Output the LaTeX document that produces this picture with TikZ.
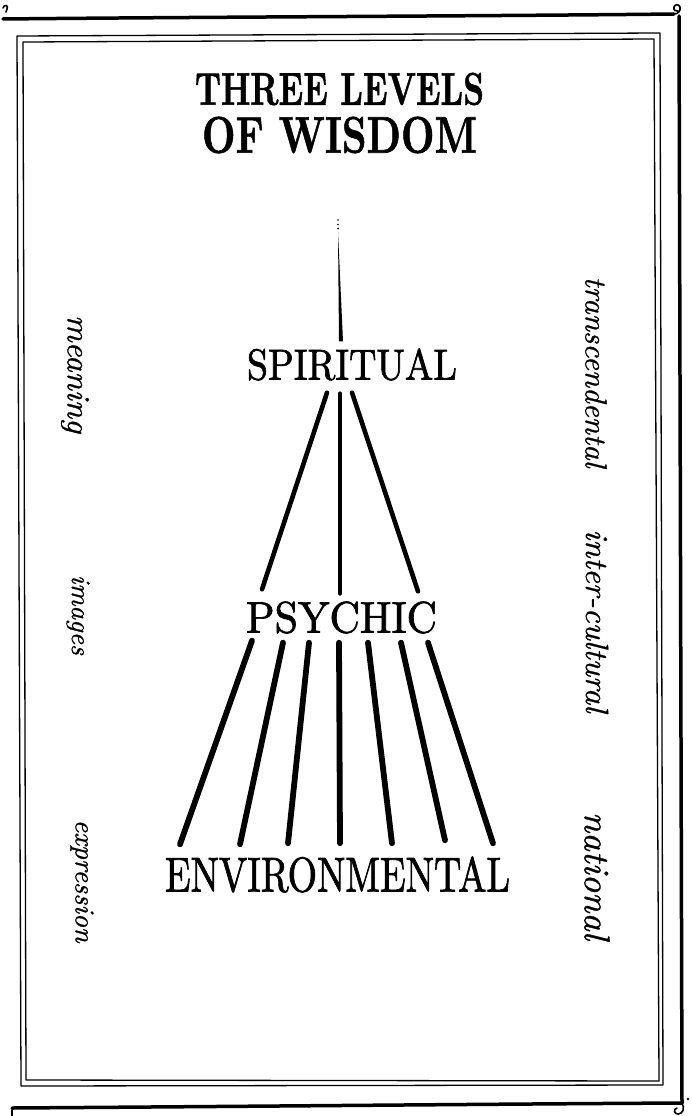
\documentclass[tikz,border=0pt]{standalone}
\usetikzlibrary{calc}
\usepackage{graphicx}
\usepackage{fontspec}
\newfontfamily\lvlfont[FakeBold=1.6]{Latin Modern Roman}
\newfontfamily\titlefont[FakeBold=1.2]{Latin Modern Roman}
\newfontfamily\handfont[FakeBold=0.8]{Latin Modern Roman}
\tikzset{
  level/.style={inner sep=0pt, anchor=center},
  side/.style={inner sep=0pt, anchor=center, rotate=-90},
  rib/.style={line width=4.6pt, line cap=round},
  ray/.style={line width=5.8pt, line cap=round},
  frame/.style={line width=1.3pt, line join=round},
  heavy/.style={line width=3.5pt, line cap=round},
  curl/.style={line width=1.6pt, line cap=round},
}
\newcommand{\fitbox}[3]{\resizebox{#1pt}{#2pt}{#3}}
\newcommand{\sidebox}[2]{\resizebox{#1pt}{!}{\handfont\itshape #2}}
\begin{document}
\begin{tikzpicture}[x=1pt,y=-1pt]
\useasboundingbox[fill=white] (0,0) rectangle (692,1116);

% outer heavy border with curls
\draw[heavy] (3,19) .. controls (200,17) and (500,16) .. (674,14);
\draw[curl] (674,14) .. controls (678,14) and (681,11) .. (680,7)
  .. controls (679,4) and (675,4) .. (674,7) .. controls (673,10) and (676,12) .. (678,11);
\draw[heavy] (679,16) -- (682,1103);
\draw[heavy] (12,1108) .. controls (300,1106) and (500,1104) .. (682,1103);
\draw[curl] (682,1103) .. controls (685,1108) and (683,1114) .. (678,1114)
  .. controls (674,1114) and (673,1109) .. (677,1108);
\fill (688,1099) circle (1.3);
\draw[curl] (3,8) .. controls (4,4) and (9,5) .. (7,9) -- (6,12);
\draw[curl] (12,1110) -- (12,1116);

% double inner frame
\draw[frame] (17,36) -- (660,33) -- (663,1085) -- (21,1086) -- cycle;
\draw[frame] (23,42) -- (654,39) -- (659,1081) -- (26,1080) -- cycle;

% title
\node[level] (t1) at (339.5,89) {\fitbox{289}{32}{\titlefont\bfseries THREE LEVELS}};
\node[level] (t2) at (339.5,135) {\fitbox{275}{36}{\titlefont\bfseries OF WISDOM}};

% levels
\node[level] (spi) at (352,364.5) {\fitbox{210}{31}{\lvlfont SPIRITUAL}};
\node[level] (psy) at (341.5,617.5) {\fitbox{191}{31}{\lvlfont PSYCHIC}};
\node[level] (env) at (337.5,874.5) {\fitbox{345}{35}{\lvlfont ENVIRONMENTAL}};

% side words
\node[side] (meaning) at (75,374) {\sidebox{118}{meaning}};
\node[side] (images) at (78,615) {\sidebox{80}{images}};
\node[side] (expression) at (82,881) {\sidebox{123}{expression}};
\node[side] (transc) at (596,372) {\sidebox{191}{transcendental}};
\node[side] (inter) at (597,621) {\sidebox{183}{inter-cultural}};
\node[side] (national) at (597,876) {\sidebox{128}{national}};

% top stem
\coordinate (apex) at (338,232);
\fill (apex) -- ($(spi.north)+(-9,-7)$) -- ($(spi.north)+(-13,-7)$) -- cycle;
\fill (338,220) circle (0.9);
\fill (338,224.5) circle (0.9);
\fill (338,228.5) circle (1);

% spiritual -> psychic
\draw[rib] ($(spi.south)+(-25,12)$) -- ($(psy.north)+(-79.5,-12)$);
\draw[rib] ($(spi.south)+(-12,13)$) -- ($(psy.north)+(-1.5,-8)$);
\draw[rib] ($(spi.south)+(0,12)$) -- ($(psy.north)+(76.5,-10)$);

% psychic -> environmental
\draw[ray] ($(psy.south)+(-89.5,7)$) -- ($(env.north)+(-157.5,-12)$);
\draw[ray] ($(psy.south)+(-58.5,9)$) -- ($(env.north)+(-97.5,-12)$);
\draw[ray] ($(psy.south)+(-32.5,9)$) -- ($(env.north)+(-49.5,-13)$);
\draw[ray] ($(psy.south)+(-2.5,9)$) -- ($(env.north)+(2.5,-13)$);
\draw[ray] ($(psy.south)+(26.5,9)$) -- ($(env.north)+(54.5,-13)$);
\draw[ray] ($(psy.south)+(59.5,9)$) -- ($(env.north)+(107.5,-16)$);
\draw[ray] ($(psy.south)+(86.5,9)$) -- ($(env.north)+(155.5,-13)$);
\end{tikzpicture}
\end{document}
